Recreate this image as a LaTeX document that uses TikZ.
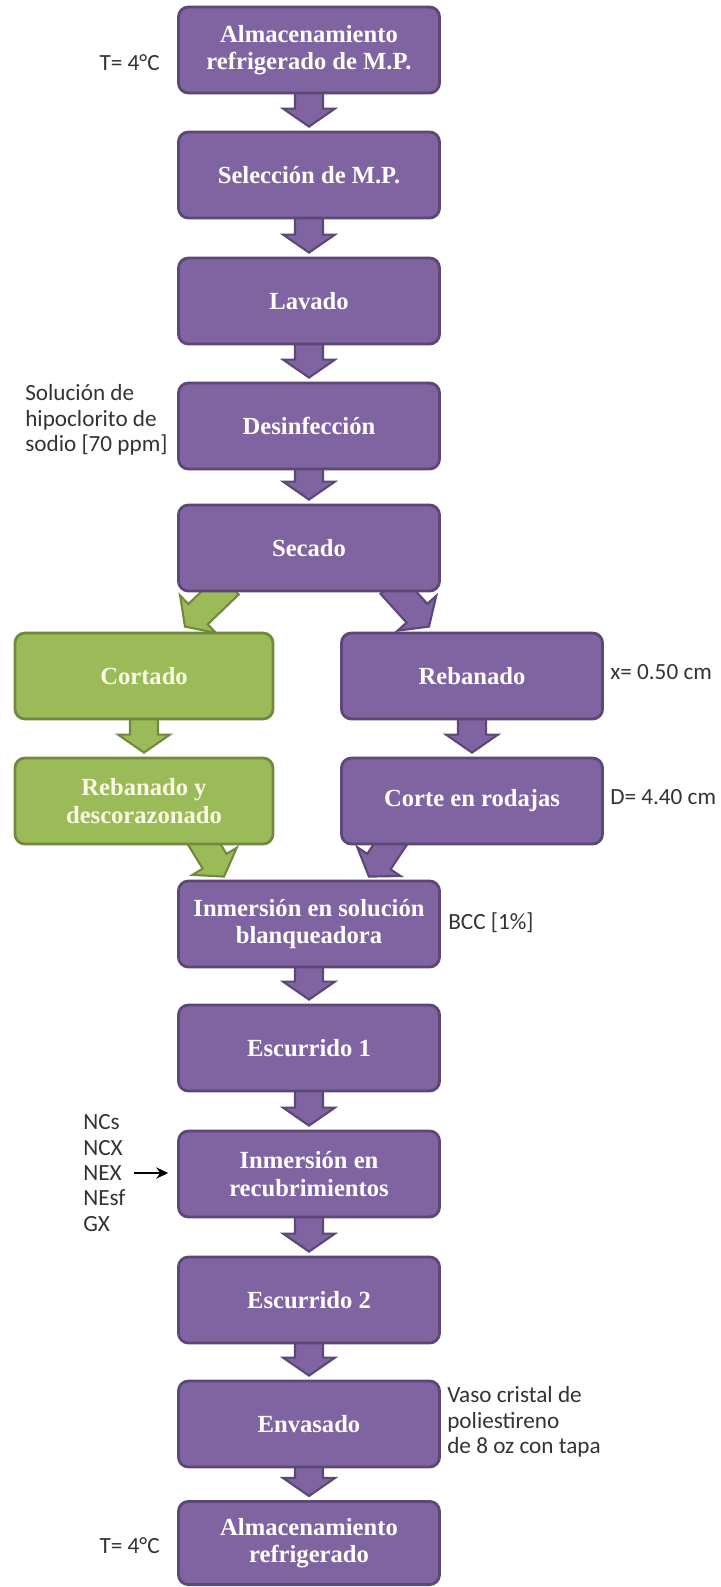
\documentclass[tikz,border=0pt]{standalone}
\usepackage{fontspec}
\usepackage{xcolor}
\usepackage{tikz}
\usetikzlibrary{positioning,arrows.meta,calc,backgrounds}
\setmainfont{Liberation Serif}
\newfontfamily\lblfont{Carlito}
\definecolor{morado}{RGB}{128,100,162}
\definecolor{moradoosc}{RGB}{92,71,118}
\definecolor{verde}{RGB}{155,187,89}
\definecolor{verdeosc}{RGB}{113,137,63}
\definecolor{crema}{RGB}{250,250,228}

% block arrow: style, tail, tip
\newcommand{\flecha}[3]{%
  \coordinate (fa) at #2;
  \coordinate (fb) at #3;
  \coordinate (fh) at ($(fb)!0.45cm!(fa)$);
  \draw[#1] ($(fa)!0.35cm!90:(fb)$) -- ($(fh)!0.35cm!90:(fb)$)
    -- ($(fh)!0.65cm!90:(fb)$) -- (fb) -- ($(fh)!0.65cm!-90:(fb)$)
    -- ($(fh)!0.35cm!-90:(fb)$) -- ($(fa)!0.35cm!-90:(fb)$) -- cycle;
}

\begin{document}
\begin{tikzpicture}[x=0.025cm, y=-0.025cm,
      paso/.style={draw=moradoosc, line width=2pt, fill=morado, rounded corners=0.25cm,
                   minimum width=6.525cm, minimum height=2.15cm, align=center,
                   text=white, font=\fontsize{17.5}{19.5}\selectfont\bfseries},
      pasov/.style={paso, draw=verdeosc, fill=verde, text=crema, minimum width=6.45cm},
      fm/.style={fill=morado, draw=moradoosc, line width=1.5pt},
      fv/.style={fill=verde, draw=verdeosc, line width=1.5pt},
      nota/.style={align=left, inner sep=0pt, text=black!80,
                   font=\lblfont\fontsize{16.5}{18}\selectfont}]
    \useasboundingbox (0,0) rectangle (721,1587);
    % main line
    \node[paso] (alm1) at (309,50) {Almacenamiento\\refrigerado de M.P.};
    \node[paso] (sel) at (309,175) {Selección de M.P.};
    \node[paso] (lav) at (309,301) {Lavado};
    \node[paso] (des) at (309,426) {Desinfección};
    \node[paso] (sec) at (309,548) {Secado};
    \node[pasov] (cort) at (144,676) {Cortado};
    \node[paso] (reb) at (472,676) {Rebanado};
    \node[pasov] (rydesc) at (144,801) {Rebanado y\\descorazonado};
    \node[paso] (corte) at (472,801) {Corte en rodajas};
    \node[paso] (inmsol) at (309,924) {Inmersión en solución\\blanqueadora};
    \node[paso] (esc1) at (309,1048) {Escurrido 1};
    \node[paso] (inmrec) at (309,1174) {Inmersión en\\recubrimientos};
    \node[paso] (esc2) at (309,1300) {Escurrido 2};
    \node[paso] (env) at (309,1424) {Envasado};
    \node[paso, minimum height=2.08cm] (alm2) at (309,1543) {Almacenamiento\\refrigerado};
    % side notes
    \node[nota, anchor=east] (tA) at (160,63) {T= 4°C};
    \node[nota, anchor=west] (hipo) at (25,420) {Solución de\\hipoclorito de\\sodio [70 ppm]};
    \node[nota, anchor=west] (esp) at (610,672) {x= 0.50 cm};
    \node[nota, anchor=west] (diam) at (610,797) {D= 4.40 cm};
    \node[nota, anchor=west] (bcc) at (448,923) {BCC [1\%]};
    \node[nota, anchor=west] (recub) at (83,1173) {NCs\\NCX\\NEX\\NEsf\\GX};
    \node[nota, anchor=west] (vaso) at (447,1422) {Vaso cristal de\\poliestireno\\de 8 oz con tapa};
    \node[nota, anchor=east] (tB) at (160,1546) {T= 4°C};
    \draw[-{Stealth[length=0.3cm, width=0.28cm]}, line width=1.8pt, shorten <=0.2cm, shorten >=0.22cm]
      (recub.east) -- (recub.east -| inmrec.west);
    % block arrows
    \begin{scope}[on background layer]
      \flecha{fm}{($(alm1.south)+(0,-4)$)}{($(sel.north)+(0,-4)$)}
      \flecha{fm}{($(sel.south)+(0,-4)$)}{($(lav.north)+(0,-4)$)}
      \flecha{fm}{($(lav.south)+(0,-4)$)}{($(des.north)+(0,-4)$)}
      \flecha{fm}{($(des.south)+(0,-4)$)}{($(sec.north)+(0,-4)$)}
      \flecha{fv}{($(sec.south west)+(52,-8)$)}{($(cort.north)+(41,-5)$)}
      \flecha{fm}{($(sec.south east)+(-50,-8)$)}{($(reb.north)+(-43,-5)$)}
      \flecha{fv}{($(cort.south)+(0,-4)$)}{($(rydesc.north)+(0,-4)$)}
      \flecha{fm}{($(reb.south)+(0,-4)$)}{($(corte.north)+(0,-4)$)}
      \flecha{fv}{($(rydesc.south)+(56,-8)$)}{($(inmsol.north west)+(47,-3)$)}
      \flecha{fm}{($(corte.south)+(-77,-8)$)}{($(inmsol.north east)+(-72,-3)$)}
      \flecha{fm}{($(inmsol.south)+(0,-4)$)}{($(esc1.north)+(0,-4)$)}
      \flecha{fm}{($(esc1.south)+(0,-4)$)}{($(inmrec.north)+(0,-4)$)}
      \flecha{fm}{($(inmrec.south)+(0,-4)$)}{($(esc2.north)+(0,-4)$)}
      \flecha{fm}{($(esc2.south)+(0,-4)$)}{($(env.north)+(0,-4)$)}
      \flecha{fm}{($(env.south)+(0,-4)$)}{($(alm2.north)+(0,-4)$)}
    \end{scope}
\end{tikzpicture}
\end{document}
